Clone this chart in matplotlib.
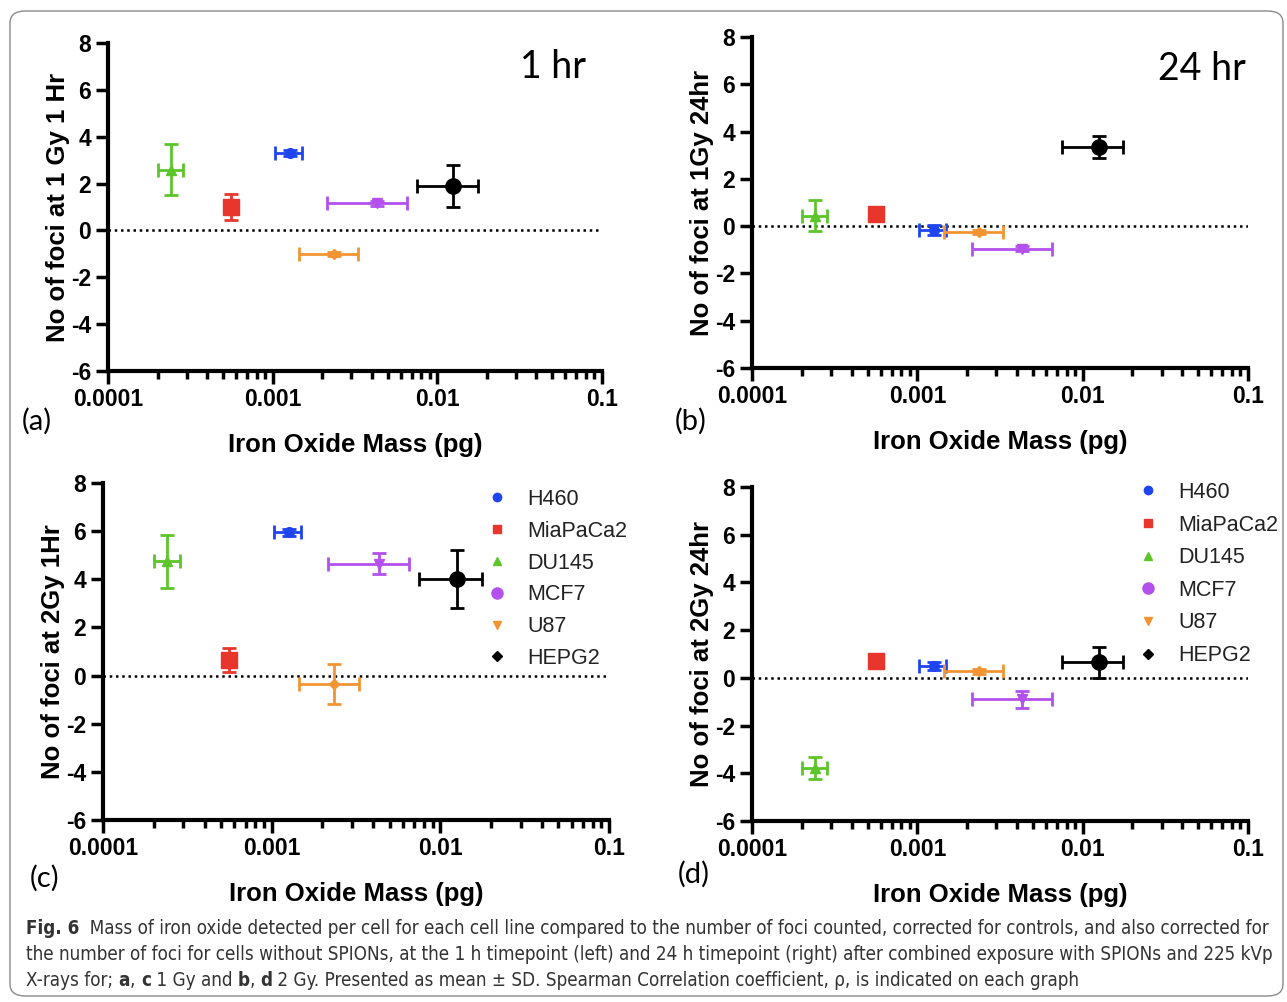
import matplotlib
matplotlib.use("Agg")
import matplotlib.pyplot as plt
from matplotlib.lines import Line2D
from matplotlib.patches import FancyBboxPatch
from matplotlib import font_manager
from matplotlib.font_manager import FontProperties

# cell lines, colours and markers as drawn in the panels
cells = ["H460", "MiaPaCa2", "DU145", "MCF7", "U87", "HEPG2"]
colors = ["#1f45f0", "#e8362c", "#5cc52a", "#b350ee", "#f39433", "#000000"]
plot_markers = ["o", "s", "^", "v", "D", "o"]
plot_sizes = [7, 11, 7, 7, 5.5, 11]
legend_markers = ["o", "s", "^", "o", "v", "D"]
legend_sizes = [6, 5.5, 5.5, 8, 5.5, 5.5]

# iron oxide mass per cell (pg), with lower / upper error ends
mass = [1.27e-3, 5.6e-4, 2.4e-4, 4.3e-3, 2.35e-3, 1.25e-2]
mass_lo = [1.03e-3, 5.3e-4, 2.0e-4, 2.15e-3, 1.45e-3, 7.5e-3]
mass_hi = [1.5e-3, 5.9e-4, 2.85e-4, 6.5e-3, 3.3e-3, 1.76e-2]

# foci (mean, SD) for each panel
foci_1gy_1h = [3.3, 1.0, 2.6, 1.15, -1.0, 1.9]
sd_1gy_1h = [0.12, 0.55, 1.1, 0.1, 0.1, 0.9]
foci_1gy_24h = [-0.17, 0.5, 0.45, -0.95, -0.25, 3.35]
sd_1gy_24h = [0.2, 0.15, 0.65, 0.1, 0.1, 0.45]
foci_2gy_1h = [5.95, 0.65, 4.75, 4.65, -0.35, 4.0]
sd_2gy_1h = [0.15, 0.5, 1.1, 0.45, 0.85, 1.2]
foci_2gy_24h = [0.5, 0.72, -3.78, -0.9, 0.27, 0.65]
sd_2gy_24h = [0.15, 0.1, 0.47, 0.35, 0.1, 0.65]

yticks = [-6, -4, -2, 0, 2, 4, 6, 8]
xticks = [1e-4, 1e-3, 1e-2, 1e-1]
xticklabels = ["0.0001", "0.001", "0.01", "0.1"]

W, H = 1287, 1002
plt.rcParams["font.family"] = ["Liberation Sans", "DejaVu Sans"]
plt.rcParams["axes.unicode_minus"] = False
fig = plt.figure(figsize=(W / 100, H / 100), dpi=100)

names = {f.name for f in font_manager.fontManager.ttflist}
title_font = "Lato" if "Lato" in names else "DejaVu Sans"

# look for a narrow face for the caption, else fall back to Liberation Sans
cond = [f for f in font_manager.fontManager.ttflist
        if f.stretch in ("condensed", "semi-condensed", "extra-condensed")
        or "Narrow" in f.name or "Condensed" in f.name]
cond_reg = [f for f in cond if f.weight in (400, "normal", "regular") and f.style == "normal"]
cond_bold = [f for f in cond if f.weight in (700, "bold") and f.style == "normal"]
if cond_reg and cond_bold:
    cap_reg = FontProperties(fname=cond_reg[0].fname)
    cap_bold = FontProperties(fname=cond_bold[0].fname)
else:
    cap_reg = FontProperties(family="Liberation Sans")
    cap_bold = FontProperties(family="Liberation Sans", weight="bold")


def px_axes(left, top, right, bottom):
    return fig.add_axes([left / W, 1 - bottom / H, (right - left) / W, (bottom - top) / H])


def draw_panel(ax, foci, sd, ylabel, tag, tag_xy, title=None, title_xy=None):
    ax.set_xscale("log")
    ax.set_xlim(1e-4, 1e-1)
    ax.set_ylim(-6, 8)
    ax.axhline(0, color="black", linestyle=(0, (1, 1.5)), linewidth=1.8, zorder=1)
    for i in range(len(cells)):
        ax.errorbar(mass[i], foci[i],
                    xerr=[[mass[i] - mass_lo[i]], [mass_hi[i] - mass[i]]],
                    yerr=sd[i], fmt=plot_markers[i], color=colors[i],
                    markersize=plot_sizes[i], elinewidth=2, capsize=5,
                    capthick=2, zorder=3, clip_on=False)
    for s in ["top", "right"]:
        ax.spines[s].set_visible(False)
    for s in ["left", "bottom"]:
        ax.spines[s].set_linewidth(3)
    ax.set_yticks(yticks)
    ax.set_xticks(xticks)
    ax.set_xticklabels(xticklabels)
    ax.tick_params(axis="both", which="major", length=9, width=2.5, labelsize=16.5, pad=3)
    ax.tick_params(axis="x", which="minor", length=6, width=2.5)
    for lab in ax.get_xticklabels() + ax.get_yticklabels():
        lab.set_fontweight("bold")
    ax.set_xlabel("Iron Oxide Mass (pg)", fontsize=18.5, fontweight="bold", labelpad=16)
    ax.set_ylabel(ylabel, fontsize=18.5, fontweight="bold", labelpad=1)
    fig.text(tag_xy[0] / W, 1 - tag_xy[1] / H, tag, fontsize=21, family=title_font,
             ha="left", va="center")
    if title:
        fig.text(title_xy[0] / W, 1 - title_xy[1] / H, title, fontsize=27,
                 family=title_font, ha="right", va="center")


def draw_legend(x, y, spacing):
    handles = [Line2D([], [], linestyle="none", marker=legend_markers[i],
                      color=colors[i], markersize=legend_sizes[i]) for i in range(len(cells))]
    fig.legend(handles, cells, loc="upper left", bbox_to_anchor=(x / W, 1 - y / H),
               frameon=False, fontsize=15.5, handlelength=1.0, handletextpad=0.9,
               labelspacing=spacing, borderpad=0, borderaxespad=0, labelcolor="#222222")


ax_a = px_axes(108, 43, 602, 371)
draw_panel(ax_a, foci_1gy_1h, sd_1gy_1h, "No of foci at 1 Gy 1 Hr", "(a)", (22, 421),
           "1 hr", (586, 67))
ax_b = px_axes(752, 37, 1248, 368)
draw_panel(ax_b, foci_1gy_24h, sd_1gy_24h, "No of foci at 1Gy 24hr", "(b)", (675, 421),
           "24 hr", (1246, 69))
ax_c = px_axes(103, 483, 609, 820)
draw_panel(ax_c, foci_2gy_1h, sd_2gy_1h, "No of foci at 2Gy 1Hr", "(c)", (30, 878))
ax_d = px_axes(752, 487, 1248, 821)
draw_panel(ax_d, foci_2gy_24h, sd_2gy_24h, "No of foci at 2Gy 24hr", "(d)", (678, 874))

draw_legend(486, 489, 0.5)
draw_legend(1137, 482, 0.54)

# rounded border round the whole figure
border = FancyBboxPatch((10 / W, 6 / H), 1273 / W, 985 / H,
                        boxstyle="round,pad=0,rounding_size=0.012",
                        transform=fig.transFigure, fill=False,
                        edgecolor="#8a8a8a", linewidth=1.0)
fig.add_artist(border)

# caption, with bold pieces
caption = [
    [("Fig. 6", True), ("  Mass of iron oxide detected per cell for each cell line compared to the number of foci counted, corrected for controls, and also corrected for", False)],
    [("the number of foci for cells without SPIONs, at the 1 h timepoint (left) and 24 h timepoint (right) after combined exposure with SPIONs and 225 kVp", False)],
    [("X-rays for; ", False), ("a", True), (", ", False), ("c", True), (" 1 Gy and ", False),
     ("b", True), (", ", False), ("d", True),
     (" 2 Gy. Presented as mean \u00b1 SD. Spearman Correlation coefficient, \u03c1, is indicated on each graph", False)],
]
cap_y = [929, 955, 981]
renderer = fig.canvas.get_renderer()


def place_line(line, yy, size):
    x = 26
    texts = []
    for txt, bold in line:
        fp = (cap_bold if bold else cap_reg).copy()
        fp.set_size(size)
        t = fig.text(x / W, 1 - yy / H, txt, fontproperties=fp, color="#333333",
                     ha="left", va="center")
        x += t.get_window_extent(renderer).width
        texts.append(t)
    return x, texts


# fit the first line to the width it has in the reference
end, probe = place_line(caption[0], cap_y[0], 13.5)
for t in probe:
    t.remove()
cap_size = min(13.5, 13.5 * (1270 - 26) / (end - 26))
for line, yy in zip(caption, cap_y):
    place_line(line, yy, cap_size)

fig.savefig("out.png", dpi=100)
